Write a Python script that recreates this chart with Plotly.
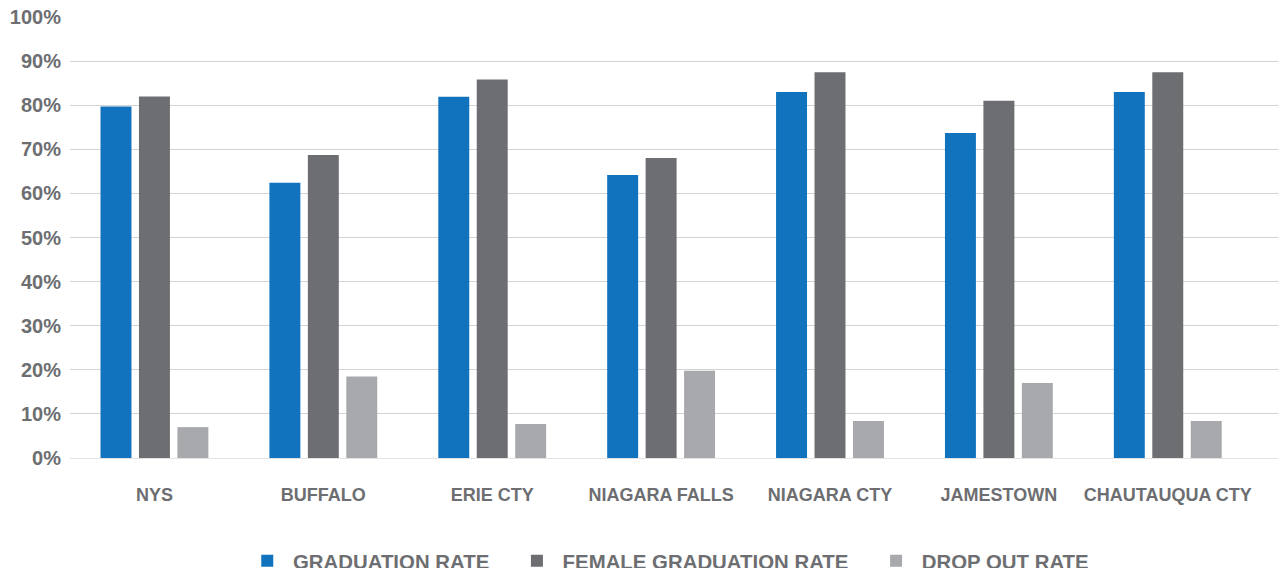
import plotly.graph_objects as go

categories = ["NYS", "BUFFALO", "ERIE CTY", "NIAGARA FALLS", "NIAGARA CTY", "JAMESTOWN", "CHAUTAUQUA CTY"]
graduation_rate = [79.7, 62.4, 81.9, 64.2, 83.0, 73.7, 83.0]
female_graduation_rate = [82.0, 68.7, 85.8, 68.0, 87.5, 81.0, 87.5]
drop_out_rate = [7.0, 18.5, 7.7, 19.8, 8.4, 17.0, 8.4]

series_names = ["GRADUATION RATE", "FEMALE GRADUATION RATE", "DROP OUT RATE"]
colors = ["#1173BD", "#6D6E71", "#A7A9AC"]
tick_vals = [0, 10, 20, 30, 40, 50, 60, 70, 80, 90, 100]
tick_text = [f"{v}%" for v in tick_vals]

FONT = "Liberation Sans"
TXT = "#6D6E71"

fig = go.Figure()
for name, vals, col in zip(series_names, [graduation_rate, female_graduation_rate, drop_out_rate], colors):
    fig.add_trace(go.Bar(
        x=categories, y=vals, name=" " + name + "    ",
        marker=dict(color=col, line=dict(width=0)),
    ))

# page body has an 8px margin, so the figure is offset by 8px right and down
fig.update_layout(
    width=1286, height=568,
    margin=dict(l=62, r=8, t=9, b=118, autoexpand=False),
    paper_bgcolor="white", plot_bgcolor="white",
    barmode="group", bargap=0.317, bargroupgap=0.195,
    font=dict(family=FONT, color=TXT),
    showlegend=True,
    legend=dict(
        orientation="h", x=0.5035, xanchor="center", y=-0.2336, yanchor="middle",
        font=dict(family=FONT, size=20.4, color=TXT, weight="bold"),
    ),
    xaxis=dict(
        range=[-0.5, 6.7], showgrid=False, zeroline=False, showline=False,
        ticks="", tickfont=dict(family=FONT, size=18, color=TXT, weight="bold"),
        ticklabelstandoff=24, automargin=False,
    ),
    yaxis=dict(
        range=[0, 100], tickvals=tick_vals, ticktext=tick_text,
        showgrid=True, gridcolor="#D3D3D3", gridwidth=1,
        zeroline=True, zerolinecolor="#E3E3E3", zerolinewidth=1,
        showline=False, ticks="", automargin=False,
        ticklabeloverflow="allow",
        tickfont=dict(family=FONT, size=20, color=TXT, weight="bold"),
        ticklabelstandoff=8,
    ),
)

fig.write_html("out.html")
